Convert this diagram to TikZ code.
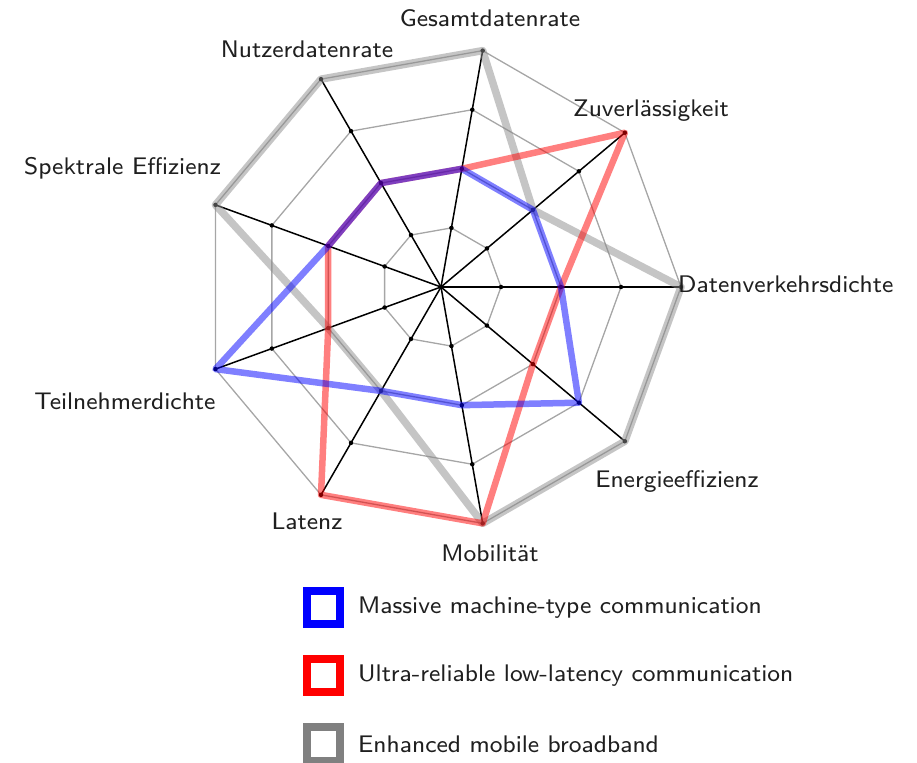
\documentclass[tikz,border=0pt]{standalone}
\usepackage{fontspec}
\newfontfamily\lblfont{lmsans8-regular.otf}
\begin{document}
\begin{tikzpicture}[x=1pt,y=1pt,
  ring/.style={draw=black!35, line width=1.3pt},
  axisline/.style={draw=black, line width=1.5pt},
  dot/.style={circle, fill=black, inner sep=0pt, minimum size=4.5pt},
  lbl/.style={font=\lblfont\fontsize{24}{28}\selectfont, text=black!88, inner sep=0pt},
  series/.style={line width=6.5pt, line join=round, opacity=0.5},
  embb/.style={series, draw=black!45, line width=7.5pt},
  urllc/.style={series, draw=red},
  mmtc/.style={series, draw=blue},
  legbox/.style={rectangle, minimum size=33pt, line width=8pt, inner sep=0pt}
]
\useasboundingbox (0,0) rectangle (917,762);
\coordinate (O) at (441,475);
\begin{scope}[shift={(441,475)}]
  % axis end points and level points
  \foreach \a/\n in {0/dv,40/zu,80/ge,120/nu,160/sp,200/te,240/la,280/mo,320/en}{
    \foreach \l in {1,2,3,4}{
      \coordinate (\n\l) at (\a:{60*\l});
    }
  }
  % rings
  \foreach \l in {1,2,3,4}{
    \draw[ring] (dv\l) -- (zu\l) -- (ge\l) -- (nu\l) -- (sp\l) -- (te\l) -- (la\l) -- (mo\l) -- (en\l) -- cycle;
  }
  % axes
  \foreach \n in {dv,zu,ge,nu,sp,te,la,mo,en}{
    \draw[axisline] (O) -- (\n4);
    \foreach \l in {1,2,3,4}{
      \node[dot] (d\n\l) at (\n\l) {};
    }
  }
\end{scope}
% data series
\draw[embb] (dv4) -- (zu2) -- (ge4) -- (nu4) -- (sp4) -- (te2) -- (la2) -- (mo4) -- (en4) -- cycle;
\draw[urllc] (dv2) -- (zu4) -- (ge2) -- (nu2) -- (sp2) -- (te2) -- (la4) -- (mo4) -- (en2) -- cycle;
\draw[mmtc] (dv2) -- (zu2) -- (ge2) -- (nu2) -- (sp2) -- (te4) -- (la2) -- (mo2) -- (en3) -- cycle;
% axis labels
\node[lbl, anchor=base] (lge) at (490,735) {Gesamtdatenrate};
\node[lbl, anchor=base] (lnu) at (307,704) {Nutzerdatenrate};
\node[lbl, anchor=base] (lzu) at (651,645) {Zuverlässigkeit};
\node[lbl, anchor=base west] (ldv) at (678,469) {Datenverkehrsdichte};
\node[lbl, anchor=base] (lsp) at (122.5,587) {Spektrale Effizienz};
\node[lbl, anchor=base] (lte) at (125,352) {Teilnehmerdichte};
\node[lbl, anchor=base] (lla) at (307,232) {Latenz};
\node[lbl, anchor=base] (lmo) at (490,200) {Mobilität};
\node[lbl, anchor=base] (len) at (677,274) {Energieeffizienz};
% legend
\node[legbox, draw=blue] (k1) at (323.5,154) {};
\node[legbox, draw=red] (k2) at (323.5,86) {};
\node[legbox, draw=gray] (k3) at (323.5,18) {};
\node[lbl, anchor=west] (t1) at (358,154) {Massive machine-type communication};
\node[lbl, anchor=west] (t2) at (358,86) {Ultra-reliable low-latency communication};
\node[lbl, anchor=west] (t3) at (358,18) {Enhanced mobile broadband};
\end{tikzpicture}
\end{document}
